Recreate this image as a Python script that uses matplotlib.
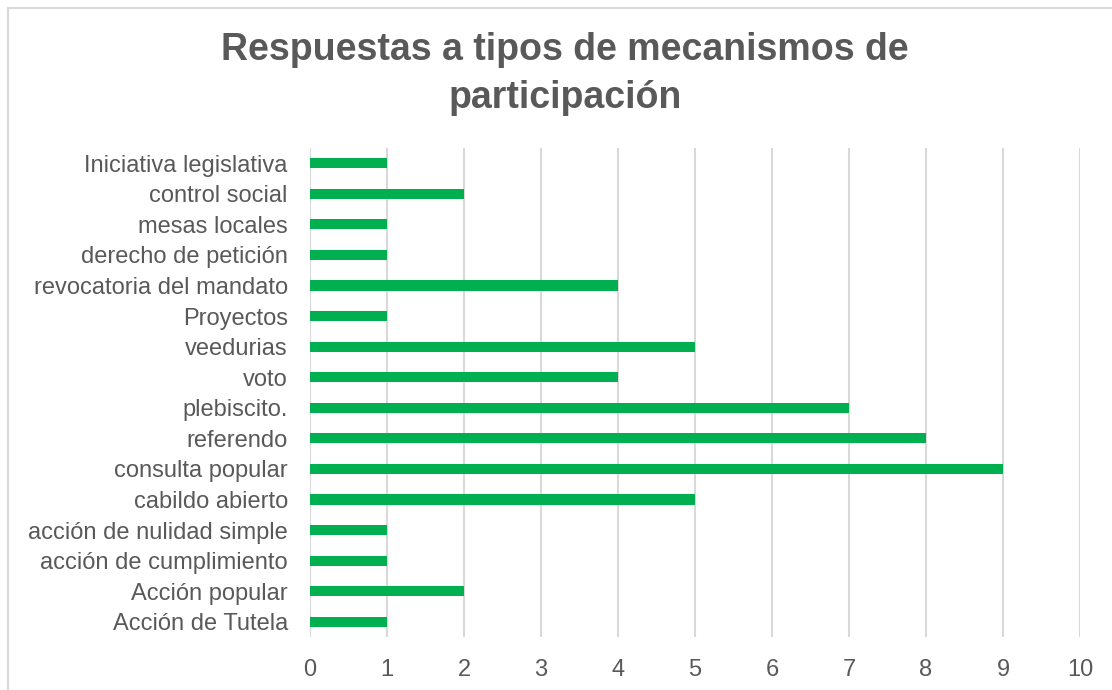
import matplotlib.pyplot as plt
from matplotlib.patches import Rectangle

plt.rcParams['font.family'] = ['Liberation Sans', 'DejaVu Sans']

categorias = [
    'Acción de Tutela', 'Acción popular', 'acción de cumplimiento',
    'acción de nulidad simple', 'cabildo abierto', 'consulta popular',
    'referendo', 'plebiscito.', 'voto', 'veedurias', 'Proyectos',
    'revocatoria del mandato', 'derecho de petición', 'mesas locales',
    'control social', 'Iniciativa legislativa',
]
respuestas = [1, 2, 1, 1, 5, 9, 8, 7, 4, 5, 1, 4, 1, 1, 2, 1]

gris = '#595959'
verde = '#00B050'

fig = plt.figure(figsize=(11.12, 6.9), dpi=100)
ax = fig.add_axes([310 / 1112, 1 - 637 / 690, 770 / 1112, 489 / 690])

ax.barh(range(len(categorias)), respuestas, height=0.33, color=verde, zorder=3)
ax.set_xlim(0, 10)
ax.set_ylim(-0.5, len(categorias) - 0.5)
ax.set_xticks(range(0, 11))
ax.set_yticks(range(len(categorias)))
ax.set_yticklabels(categorias)
ax.tick_params(axis='both', length=0, labelsize=17, colors=gris)
ax.tick_params(axis='y', pad=16)
ax.tick_params(axis='x', pad=16)
ax.grid(axis='x', color='#d9d9d9', linewidth=1.5, zorder=0)
for s in ax.spines.values():
    s.set_visible(False)

fig.text(565 / 1112, 1 - 74 / 690, 'Respuestas a tipos de mecanismos de\nparticipación',
         ha='center', va='center', fontsize=27, fontweight='bold', color=gris,
         linespacing=1.45)

fig.patches.append(Rectangle((8 / 1112, -0.1), 1.2, 1 - 8 / 690 + 0.1,
                             transform=fig.transFigure, fill=False,
                             edgecolor='#d9d9d9', linewidth=1.5))

fig.savefig('out.png', dpi=100)
plt.close(fig)
